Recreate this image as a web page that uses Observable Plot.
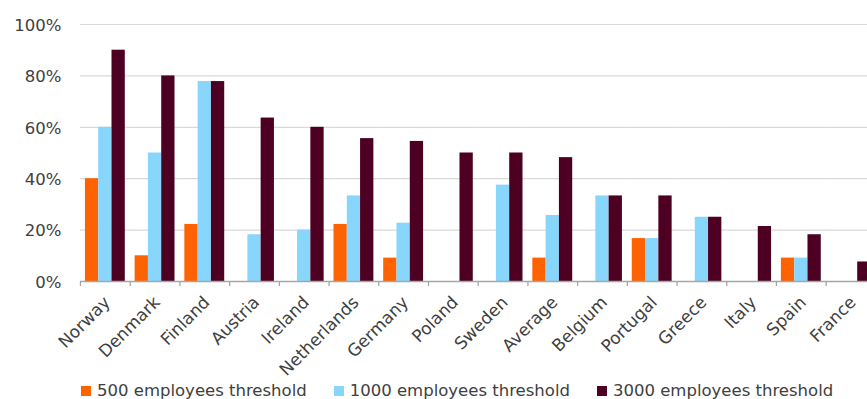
<!DOCTYPE html>
<html>
<head>
<meta charset="utf-8">
<script src="https://cdn.jsdelivr.net/npm/d3@7"></script>
<script src="https://cdn.jsdelivr.net/npm/@observablehq/plot@0.6"></script>
<style>
  html, body { margin: 0; padding: 0; background: #fff; overflow: hidden; width: 867px; height: 399px; }
  #chart svg { display: block; }
  .legend { display: flex; align-items: baseline; padding-left: 81px; font-family: "DejaVu Sans", sans-serif; font-size: 16.5px; line-height: 18px; color: #404040; white-space: nowrap; }
  .legend .item { display: inline-flex; align-items: baseline; margin-right: 27px; }
  .legend .sw { display: inline-block; width: 10px; height: 10px; margin-right: 6px; }
</style>
</head>
<body>
<div id="chart"></div>
<div class="legend" id="legend"></div>
<script>
const countries = ["Norway","Denmark","Finland","Austria","Ireland","Netherlands","Germany","Poland","Sweden","Average","Belgium","Portugal","Greece","Italy","Spain","France"];
const seriesNames = ["500 employees threshold","1000 employees threshold","3000 employees threshold"];
const seriesColors = ["#FF6200","#89D6FD","#4D0022"];
const s500  = [40, 10, 22.2, 0, 0, 22.2, 9.1, 0, 0, 9.1, 0, 16.7, 0, 0, 9.1, 0];
const s1000 = [60, 50, 77.8, 18.2, 20, 33.3, 22.7, 0, 37.5, 25.7, 33.3, 16.7, 25, 0, 9.1, 0];
const s3000 = [90, 80, 77.8, 63.6, 60, 55.6, 54.5, 50, 50, 48.2, 33.3, 33.3, 25, 21.4, 18.2, 7.6];
const yTicks = [0, 20, 40, 60, 80, 100];
const gridTicks = [20, 40, 60, 80, 100];

const seriesValues = [s500, s1000, s3000];
const data = [];
countries.forEach((c, i) => {
  seriesNames.forEach((s, j) => data.push({country: c, series: s, value: seriesValues[j][i]}));
});

const W = 867, H = 382, ML = 80, MR = -8.4, MT = 24, MB = 101;
const step = (W - ML - MR) / countries.length;

const chart = Plot.plot({
  width: W,
  height: H,
  marginLeft: ML,
  marginRight: MR,
  marginTop: MT,
  marginBottom: MB,
  style: {fontFamily: "DejaVu Sans, sans-serif", fontSize: "16px", background: "#fff", overflow: "visible"},
  fx: {domain: countries, padding: 0, round: false, label: null},
  x: {domain: seriesNames, paddingInner: 0, paddingOuter: 0.37, round: false, axis: null},
  y: {domain: [0, 100], label: null},
  color: {domain: seriesNames, range: seriesColors},
  marks: [
    Plot.gridY({ticks: gridTicks, stroke: "#d9d9d9", strokeOpacity: 1, strokeWidth: 1.2}),
    Plot.barY(data, {fx: "country", x: "series", y: "value", fill: "series", inset: 0}),
    Plot.ruleY([0], {stroke: "#a6a6a6", strokeWidth: 1.3}),
    Plot.axisY({ticks: yTicks, tickFormat: d => d + "%", tickSize: 0, tickPadding: 19, fontSize: 16.5, color: "#404040", dy: 1, label: null}),
    Plot.axisFx({anchor: "bottom", tickSize: 5, tickFormat: () => "", dx: -step / 2, stroke: "#a6a6a6", strokeWidth: 1.3, label: null}),
    Plot.axisFx({anchor: "bottom", tickSize: 0, tickPadding: 18, tickRotate: -45, fontSize: 17, color: "#404040", dx: 2, label: null})
  ]
});
document.getElementById("chart").appendChild(chart);

const legend = document.getElementById("legend");
seriesNames.forEach((s, j) => {
  const item = document.createElement("span");
  item.className = "item";
  const sw = document.createElement("span");
  sw.className = "sw";
  sw.style.background = seriesColors[j];
  item.appendChild(sw);
  item.appendChild(document.createTextNode(s));
  legend.appendChild(item);
});
</script>
</body>
</html>
